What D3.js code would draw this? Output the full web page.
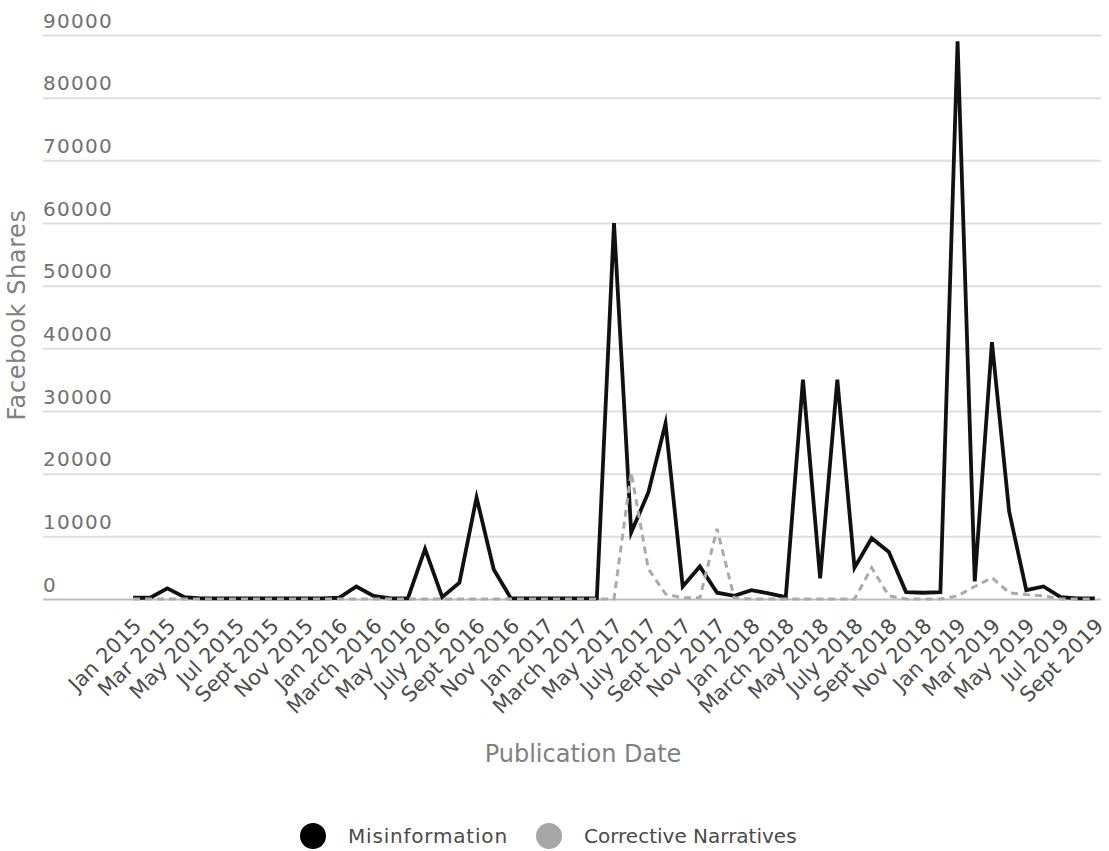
<!DOCTYPE html>
<html>
<head>
<meta charset="utf-8">
<script src="https://cdn.jsdelivr.net/npm/d3@7/dist/d3.min.js"></script>
<style>
  html, body { margin: 0; padding: 0; background: #fff; }
  svg { display: block; }
</style>
</head>
<body>
<svg id="chart" width="1109" height="851"></svg>
<script>
// ---- Data ----
const months = [
  "Jan 2015","Feb 2015","Mar 2015","Apr 2015","May 2015","Jun 2015","Jul 2015","Aug 2015","Sept 2015","Oct 2015","Nov 2015","Dec 2015",
  "Jan 2016","Feb 2016","March 2016","Apr 2016","May 2016","June 2016","July 2016","Aug 2016","Sept 2016","Oct 2016","Nov 2016","Dec 2016",
  "Jan 2017","Feb 2017","March 2017","Apr 2017","May 2017","June 2017","July 2017","Aug 2017","Sept 2017","Oct 2017","Nov 2017","Dec 2017",
  "Jan 2018","Feb 2018","March 2018","Apr 2018","May 2018","June 2018","July 2018","Aug 2018","Sept 2018","Oct 2018","Nov 2018","Dec 2018",
  "Jan 2019","Feb 2019","Mar 2019","Apr 2019","May 2019","Jun 2019","Jul 2019","Aug 2019","Sept 2019"
];

const misinformation = [
  200, 200, 1700, 300, 100, 100, 100, 100, 100, 100, 100, 100,
  200, 2000, 500, 100, 100, 8000, 300, 2600, 16200, 4700, 100, 100,
  100, 100, 100, 100, 60000, 10600, 17000, 28000, 2000, 5200, 1000, 500,
  1400, 900, 300, 35000, 3300, 35000, 5000, 9700, 7500, 1100, 1000, 1100,
  89000, 2800, 41000, 14000, 1400, 2000, 300, 100, 100
];

const corrective = [
  0, 0, 0, 0, 0, 0, 0, 0, 0, 0, 0, 0,
  0, 0, 0, 0, 0, 0, 0, 0, 0, 0, 0, 0,
  0, 0, 0, 0, 0, 20200, 4800, 800, 200, 200, 11200, 200,
  0, 0, 0, 0, 0, 0, 0, 5000, 500, 0, 0, 0,
  500, 2000, 3400, 1000, 700, 500, 0, 0, 0
];

const tickLabels = [
  "Jan 2015","Mar 2015","May 2015","Jul 2015","Sept 2015","Nov 2015",
  "Jan 2016","March 2016","May 2016","July 2016","Sept 2016","Nov 2016",
  "Jan 2017","March 2017","May 2017","July 2017","Sept 2017","Nov 2017",
  "Jan 2018","March 2018","May 2018","July 2018","Sept 2018","Nov 2018",
  "Jan 2019","Mar 2019","May 2019","Jul 2019","Sept 2019"
];

const yTicks = [0, 10000, 20000, 30000, 40000, 50000, 60000, 70000, 80000, 90000];

const seriesNames = ["Misinformation", "Corrective Narratives"];

// ---- Layout ----
const svg = d3.select("#chart");
const FONT = "'DejaVu Sans', sans-serif";
const gridLeft = 43, gridRight = 1101;

const x = d3.scalePoint().domain(months).range([133, 1095]);
const y = d3.scaleLinear().domain([0, 90000]).range([599, 35]);

// Y axis with gridlines
const yAxis = svg.append("g")
  .attr("transform", `translate(${gridLeft},0)`)
  .call(d3.axisLeft(y).tickValues(yTicks).tickSize(-(gridRight - gridLeft)).tickFormat(d3.format("d")));
yAxis.select(".domain").remove();
yAxis.selectAll(".tick line")
  .attr("stroke", d => d === 0 ? "#bdbdbd" : "#dedede")
  .attr("stroke-width", 2);
yAxis.selectAll(".tick text")
  .attr("x", 0)
  .attr("dy", -8)
  .attr("text-anchor", "start")
  .attr("fill", "#707070")
  .style("font-family", FONT)
  .style("font-size", "20px")
  .style("letter-spacing", "1.3px");

// X axis labels
const xAxis = svg.append("g")
  .attr("transform", `translate(0,599)`)
  .call(d3.axisBottom(x).tickValues(tickLabels).tickSize(0));
xAxis.select(".domain").remove();
xAxis.selectAll(".tick text")
  .attr("x", 0)
  .attr("y", 0)
  .attr("dy", "0.35em")
  .attr("text-anchor", "end")
  .attr("transform", "translate(4,23) rotate(-45)")
  .attr("fill", "#4d4d4d")
  .style("font-family", FONT)
  .style("font-size", "21px");

// Lines
const lineGen = d3.line()
  .x((d, i) => x(months[i]))
  .y(d => y(d));

svg.append("path")
  .datum(misinformation)
  .attr("fill", "none")
  .attr("stroke", "#111")
  .attr("stroke-width", 3.8)
  .attr("stroke-linejoin", "miter")
  .attr("stroke-miterlimit", 10)
  .attr("d", lineGen);

svg.append("path")
  .datum(corrective)
  .attr("fill", "none")
  .attr("stroke", "#aaa")
  .attr("stroke-width", 3)
  .attr("stroke-dasharray", "7 5")
  .attr("d", lineGen);

// Axis titles
svg.append("text")
  .attr("transform", "translate(25,315) rotate(-90)")
  .attr("text-anchor", "middle")
  .attr("fill", "#808080")
  .style("font-family", FONT)
  .style("font-size", "24px")
  .style("letter-spacing", "0.6px")
  .text("Facebook Shares");

svg.append("text")
  .attr("x", 583)
  .attr("y", 762)
  .attr("text-anchor", "middle")
  .attr("fill", "#808080")
  .style("font-family", FONT)
  .style("font-size", "24px")
  .text("Publication Date");

// Legend
const legendColors = ["#000", "#a6a6a6"];
const legendCx = [313, 549];
const legend = svg.append("g");
seriesNames.forEach((name, i) => {
  legend.append("circle")
    .attr("cx", legendCx[i])
    .attr("cy", 836)
    .attr("r", 13)
    .attr("fill", legendColors[i]);
  legend.append("text")
    .attr("x", legendCx[i] + 35)
    .attr("y", 843)
    .attr("fill", "#4a4a4a")
    .style("font-family", FONT)
    .style("font-size", "20px")
    .style("letter-spacing", i === 0 ? "0.8px" : "0px")
    .text(name);
});
</script>
</body>
</html>
